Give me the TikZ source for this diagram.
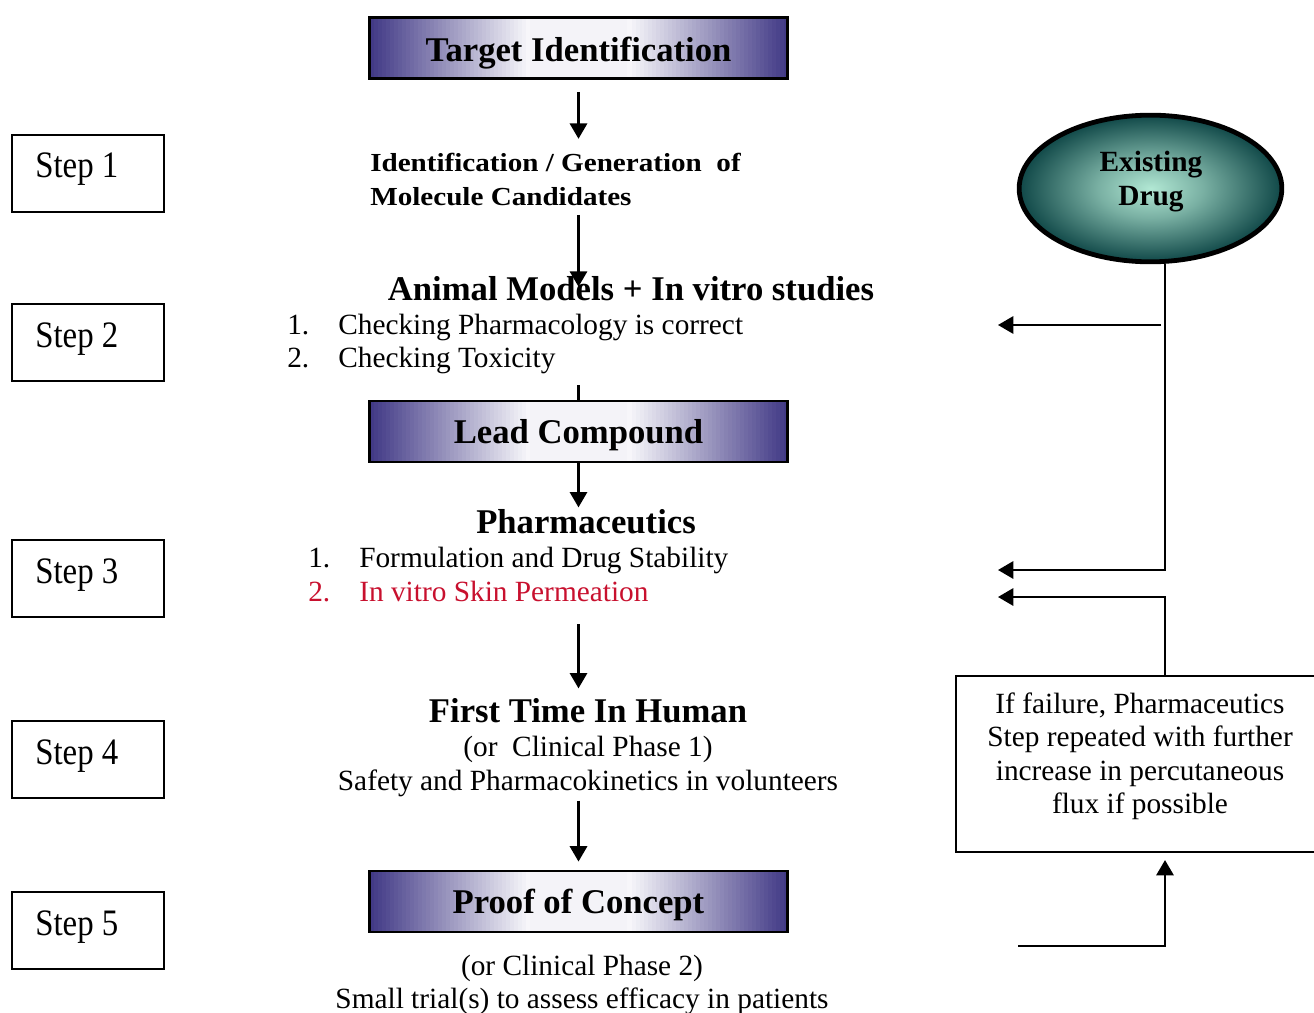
\documentclass[tikz,border=0pt]{standalone}
\usepackage{fontspec}
\setmainfont{Liberation Serif}
\newfontfamily\idfont{Liberation Serif}[FakeStretch=1.12]
\newfontfamily\stepfont{Liberation Serif}[FakeStretch=0.88]
\usetikzlibrary{arrows.meta,shapes.geometric}
\definecolor{pb}{RGB}{66,58,134}
\definecolor{tealdk}{RGB}{16,72,72}
\definecolor{teallt}{RGB}{178,232,212}
\definecolor{redtxt}{RGB}{200,16,46}
\pgfdeclareradialshading{tealshade}{\pgfpoint{0bp}{0bp}}{color(0bp)=(teallt); color(10bp)=(teallt!65!tealdk); color(25bp)=(tealdk); color(50bp)=(tealdk)}
\begin{document}
\begin{tikzpicture}[x=0.75pt,y=-0.75pt,
  hbox/.style={draw=black, line width=2.2pt, minimum width=313.5pt, minimum height=45.75pt, inner sep=0pt, text depth=3pt, font=\fontsize{26}{30}\selectfont\bfseries,
    path picture={
      \fill[white!94!pb] (path picture bounding box.south west) rectangle (path picture bounding box.north east);
      \foreach \i in {0,...,39}{
        \pgfmathsetmacro\cc{100-\i*2.45}
        \fill[pb!\cc!white] ([xshift=\i*3pt]path picture bounding box.south west) rectangle ([xshift=\i*3pt+3.3pt]path picture bounding box.north west);
        \fill[pb!\cc!white] ([xshift=-\i*3pt]path picture bounding box.south east) rectangle ([xshift=-\i*3pt-3.3pt]path picture bounding box.north east);
      }
    }},
  stepbox/.style={draw=black, line width=1.8pt, minimum width=113.6pt, minimum height=57.4pt, inner sep=0pt},
  big/.style={font=\fontsize{26}{30}\selectfont\bfseries},
  reg/.style={font=\fontsize{22}{26}\selectfont},
  bold22/.style={font=\fontsize{22}{26}\selectfont\bfseries},
  idf/.style={font=\idfont\bfseries\fontsize{19.5}{24}\selectfont},
  stepf/.style={font=\stepfont\fontsize{28}{32}\selectfont},
  tx/.style={inner sep=0pt, anchor=base},
  txw/.style={inner sep=0pt, anchor=base west},
  ln/.style={line width=1.6pt},
  arr/.style={line width=1.6pt, -{Triangle[length=11.5pt,width=13pt]}},
]
\useasboundingbox (0,0) rectangle (1314,1013);

% left step boxes
\node[stepbox] (s1) at (88,173.5) {};
\node[txw, stepf] (s1t) at (35,178) {Step 1};
\node[stepbox] (s2) at (88,342.5) {};
\node[txw, stepf] (s2t) at (35,347) {Step 2};
\node[stepbox] (s3) at (88,578.5) {};
\node[txw, stepf] (s3t) at (35,583) {Step 3};
\node[stepbox] (s4) at (88,759.5) {};
\node[txw, stepf] (s4t) at (35,764) {Step 4};
\node[stepbox] (s5) at (88,930.5) {};
\node[txw, stepf] (s5t) at (35,935) {Step 5};

% central column
\node[hbox, text height=24pt] (ti) at (578.5,48) {Target Identification};
\node[txw, idf] (id1) at (370,172) {Identification / Generation\ \ of};
\node[txw, idf] (id2) at (370,205) {Molecule Candidates};
\node[tx, big] (am) at (631,300) {Animal Models + In vitro studies};
\node[txw, reg] (n1) at (287,334) {1.};
\node[txw, reg] (c1) at (338,334) {Checking Pharmacology is correct};
\node[txw, reg] (n2) at (287,367) {2.};
\node[txw, reg] (c2) at (338,367) {Checking Toxicity};
\node[hbox, text height=21pt] (lc) at (578.5,431.5) {Lead Compound};
\node[tx, big] (ph) at (586,533) {Pharmaceutics};
\node[txw, reg] (p1n) at (308,567) {1.};
\node[txw, reg] (p1) at (359,567) {Formulation and Drug Stability};
\node[txw, reg, text=redtxt] (p2n) at (308,601) {2.};
\node[txw, reg, text=redtxt] (p2) at (359,601) {In vitro Skin Permeation};
\node[tx, big] (ft) at (588,722) {First Time In Human};
\node[tx, reg] (cp1) at (588,756) {(or\ \ Clinical Phase 1)};
\node[tx, reg] (sf) at (588,790) {Safety and Pharmacokinetics in volunteers};
\node[hbox, text height=21pt] (pc) at (578.5,901.5) {Proof of Concept};
\node[tx, reg] (cp2) at (582,975) {(or Clinical Phase 2)};
\node[tx, reg] (st) at (582,1008) {Small trial(s) to assess efficacy in patients};

% central connectors
\draw[arr, shorten <=9pt, shorten >=11pt] (ti.south) -- (ti.south |- id1.north);
\draw[arr, shorten <=7pt, shorten >=10pt] (ti.south |- id2.south) -- (ti.south |- am.base);
\draw[ln] (lc.north) -- ++(0,-15);
\draw[arr, shorten >=1pt] (lc.south) -- (lc.south |- ph.north);
\draw[arr, shorten <=17pt, shorten >=7pt] (lc.south |- p2.south) -- (lc.south |- ft.north);
\draw[arr, shorten <=3pt, shorten >=6pt] (lc.south |- sf.south) -- (pc.north);

% right side
\node[ellipse, draw=black, line width=3.6pt, shade, shading=tealshade, minimum width=197pt, minimum height=110pt, inner sep=0pt] (ed) at (1150.5,188.5) {};
\node[tx, bold22] (ex1) at (1151,172) {Existing};
\node[tx, bold22] (ex2) at (1151,205) {Drug};

\node[draw=black, line width=1.8pt, minimum width=277.5pt, minimum height=132pt, anchor=north west, inner sep=0pt] (fb) at (955,675) {};
\node[tx, reg] (f1) at (1140,713) {If failure, Pharmaceutics};
\node[tx, reg] (f2) at (1140,746) {Step repeated with further};
\node[tx, reg] (f3) at (1140,780) {increase in percutaneous};
\node[tx, reg] (f4) at (1140,813) {flux if possible};

\coordinate (vx) at (1165,0);
\coordinate (b2) at (1161,325);
\coordinate (t2) at (998,325);
\coordinate (t3) at (998,570);
\coordinate (t3b) at (998,597);
\coordinate (b5) at (1018,946);

\draw[arr] (ed.south -| vx) |- (t3);
\draw[arr] (b2) -- (t2);
\draw[arr] (fb.north -| vx) |- (t3b);
\draw[arr, shorten >=5pt] (b5) -| (fb.south -| vx);
\end{tikzpicture}
\end{document}
